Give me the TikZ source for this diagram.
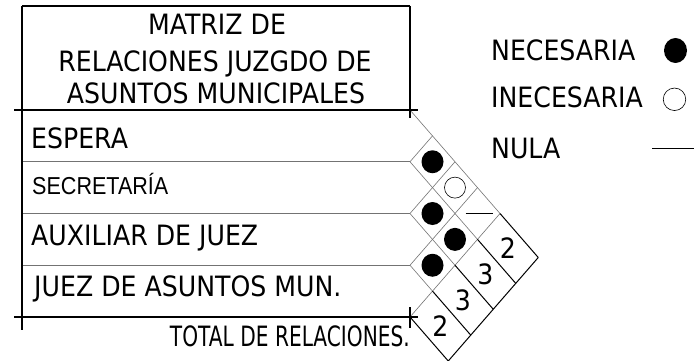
\documentclass[tikz,border=0pt]{standalone}
\usepackage{fontspec}
\setmainfont{DejaVu Sans}[FakeStretch=0.9]
\newfontfamily\secfont{Liberation Sans}[FakeStretch=0.88]
\newfontfamily\totfont{DejaVu Sans}[FakeStretch=0.72]
\usetikzlibrary{calc,shapes.geometric}
\begin{document}
\begin{tikzpicture}[x=1pt,y=1pt,
  frame/.style={line width=1.2pt,draw=black},
  gridln/.style={line width=0.6pt,draw=black!55},
  totln/.style={line width=1pt,draw=black},
  lbl/.style={inner sep=0pt,font=\fontsize{28}{30}\selectfont},
  small/.style={inner sep=0pt,font=\secfont\fontsize{24.5}{26}\selectfont},
  fulldot/.style={ellipse,fill=black,inner sep=0pt,minimum width=22pt,minimum height=23pt},
  opendot/.style={circle,draw=black,line width=0.6pt,inner sep=0pt,minimum size=21pt}]
\useasboundingbox (0,0) rectangle (694,-361);
% lattice points
\coordinate (P0) at (410,-110);
\coordinate (P1) at (410,-161.75);
\coordinate (P2) at (410,-213.5);
\coordinate (P3) at (410,-265.25);
\coordinate (P4) at (410,-317);
\coordinate (Ap) at ($(P0)+4*(22.5,-25.875)$);
% row separators
\draw[gridln] (22,-161.75) -- (P1);
\draw[gridln] (22,-213.5) -- (P2);
\draw[gridln] (22,-265.25) -- (P3);
% relation grid
\foreach \i in {1,2,3,4} \draw[gridln] (P\i) -- ++({\i*22.5},{\i*25.875});
\foreach \i/\n in {0/4,1/3,2/2,3/1} \draw[gridln] (P\i) -- ++({\n*22.5},{-\n*25.875});
% totals band
\foreach \j in {0,...,4} \draw[totln] ($(P4)+\j*(22.5,25.875)$) -- ++(38.25,-44);
\draw[totln] ($(P4)+(38.25,-44)$) -- ($(Ap)+(38.25,-44)$);
% frame
\draw[frame] (22,-6) -- (410,-6);
\draw[frame] (14,-110) -- (418,-110);
\draw[frame] (14,-317) -- (418,-317);
\draw[frame] (22,-6) -- (22,-330);
\draw[frame] (410,-6) -- (410,-118);
\draw[frame] (410,-307) -- (410,-328);
% title
\node[lbl,anchor=base] (t1) at (217,-34.3) {MATRIZ DE};
\node[lbl,anchor=base] (t2) at (215,-72) {RELACIONES JUZGDO DE};
\node[lbl,anchor=base] (t3) at (216,-103.3) {ASUNTOS MUNICIPALES};
% rows
\node[lbl,anchor=base west] (r1) at (31,-148) {ESPERA};
\node[small,anchor=base west] (r2) at (32,-194) {SECRETARÍA};
\node[lbl,anchor=base west] (r3) at (31,-245) {AUXILIAR DE JUEZ};
\node[lbl,anchor=base west] (r4) at (34,-296) {JUEZ DE ASUNTOS MUN.};
\node[inner sep=0pt,anchor=base east,font=\totfont\fontsize{28}{30}\selectfont] (tot) at (410,-346) {TOTAL DE RELACIONES.};
% relations
\node[fulldot] (c12) at ($(P1)+(22.5,0)$) {};
\node[fulldot] (c23) at ($(P2)+(22.5,0)$) {};
\node[fulldot] (c34) at ($(P3)+(22.5,0)$) {};
\node[opendot] (c13) at ($(P1)+(45,-25.875)$) {};
\node[fulldot] (c24) at ($(P2)+(45,-25.875)$) {};
\coordinate (c14) at ($(P1)+(67.5,-51.75)$);
\draw[line width=0.8pt] ($(c14)+(-12,0)$) coordinate (d1) -- ($(c14)+(15,0)$) coordinate (d2);
% totals
\foreach \j/\v in {0/2,1/3,2/3,3/2}
  \node[lbl,anchor=center] (s\j) at ($(P4)+{\j+0.5}*(22.5,25.875)+(19.1,-22)$) {\v};
% legend
\node[lbl,anchor=base west] (l1) at (491,-61) {NECESARIA};
\node[lbl,anchor=base west] (l2) at (491,-107) {INECESARIA};
\node[lbl,anchor=base west] (l3) at (491,-158) {NULA};
\node[fulldot,minimum width=23pt,minimum height=25pt] (ld1) at (675.5,-50.5) {};
\node[opendot,minimum size=22.5pt] (ld2) at (674.5,-99.3) {};
\coordinate (n1) at (652,-148);
\coordinate (n2) at (694,-148);
\draw[line width=0.8pt] (n1) -- (n2);
\end{tikzpicture}
\end{document}
